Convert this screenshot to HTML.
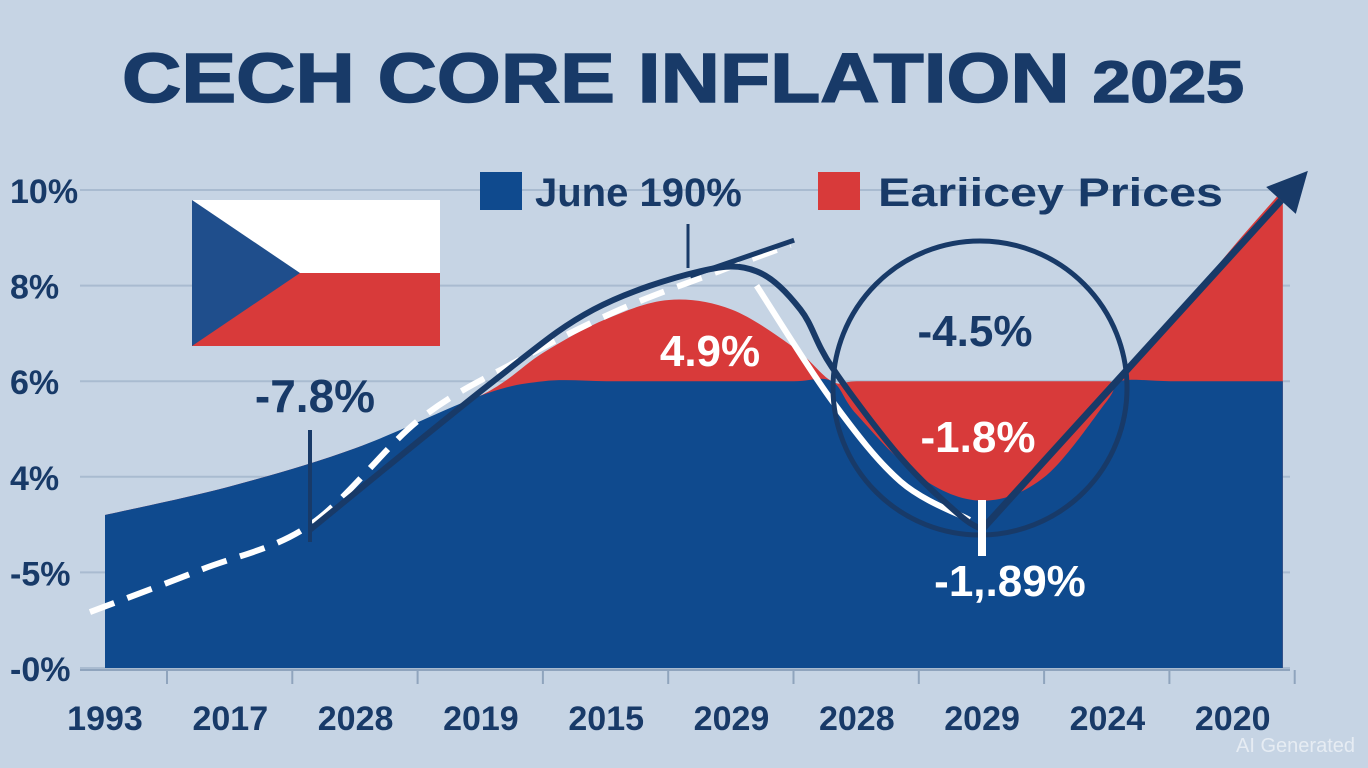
<!DOCTYPE html>
<html><head><meta charset="utf-8"><style>
body{margin:0;width:1368px;height:768px;overflow:hidden;background:#c6d4e4;font-family:"Liberation Sans",sans-serif}
svg{display:block}
</style></head><body>
<svg id="chart" width="1368" height="768" viewBox="0 0 1368 768">
<rect width="1368" height="768" fill="#c6d4e4"/>
<text x="122" y="102" font-size="70" font-weight="bold" fill="#183a68" textLength="1122" lengthAdjust="spacingAndGlyphs" stroke="#183a68" stroke-width="1.5">CECH CORE INFLATION <tspan font-size="58">2025</tspan></text>
<g id="grid"></g><g id="areas"></g><g id="lines"></g>
<g>
<rect x="480" y="172" width="42" height="38" fill="#0f4a8e"/>
<text x="535" y="206" font-size="40" font-weight="bold" fill="#183a68">June 190%</text>
<rect x="818" y="172" width="42" height="38" fill="#d83a3a"/>
<text x="878" y="206" font-size="40" font-weight="bold" fill="#183a68" textLength="345" lengthAdjust="spacingAndGlyphs">Eariicey Prices</text>
</g>
<g>
<rect x="192" y="200" width="248" height="73" fill="#ffffff"/>
<rect x="192" y="273" width="248" height="73" fill="#d83a3a"/>
<polygon points="192,200 300,273 192,346" fill="#1f4e8c"/>
</g>
<circle cx="980" cy="388" r="147" fill="none" stroke="#183a68" stroke-width="5"/>
<line x1="310" y1="430" x2="310" y2="542" stroke="#183a68" stroke-width="4"/>
<line x1="688" y1="224" x2="688" y2="268" stroke="#183a68" stroke-width="3"/>
<line x1="982" y1="500" x2="982" y2="556" stroke="#ffffff" stroke-width="8"/>
<text x="315" y="412" text-anchor="middle" font-size="46" font-weight="bold" fill="#183a68">-7.8%</text>
<text x="710" y="366" text-anchor="middle" font-size="44" font-weight="bold" fill="#ffffff">4.9%</text>
<text x="975" y="346" text-anchor="middle" font-size="44" font-weight="bold" fill="#183a68">-4.5%</text>
<text x="978" y="452" text-anchor="middle" font-size="44" font-weight="bold" fill="#ffffff">-1.8%</text>
<text x="1010" y="596" text-anchor="middle" font-size="44" font-weight="bold" fill="#ffffff">-1,.89%</text>
<g id="axes"></g>
<text x="1355" y="752" text-anchor="end" font-size="20" fill="#e6ecf3">AI Generated</text>
</svg>
<script>
const yTickValues=[0,2,4,6,8,10];
const yTickLabels=['-0%','-5%','4%','6%','8%','10%'];
const xCategories=['1993','2017','2028','2019','2015','2029','2028','2029','2024','2020'];
const areaXs=[0,1,2,3,3.5,4,4.5,5,5.5,5.8,6,6.5,7,7.5,8,8.1,8.5,9,9.4];
const redValues=[3.2,3.8,4.6,5.7,6.6,7.3,7.7,7.5,6.7,6.0,6,6,6,6,6,6,7.2,8.8,10.0];
const blueValues=[3.2,3.8,4.6,5.7,6,6,6,6,6,6,5.3,4.0,3.5,4.0,5.6,6,6,6,6];
const darkXs=[1.64,3.1,3.9,4.75,5.2,5.55,5.8,6.35,6.82,7.0];
const darkValues=[2.9,6.0,7.5,8.3,8.3,7.5,6.3,4.4,3.2,2.9];
const arrowXs=[7.0,9.6];
const arrowValues=[2.9,10.4];
const branchXs=[4.67,5.5];
const branchValues=[8.2,8.95];
const dashXs=[-0.12,0.76,1.64,2.51,3.31,4.11,4.9,5.47];
const dashValues=[1.17,2.05,3.0,5.2,6.45,7.5,8.3,8.85];
const whiteXs=[5.2,5.8,6.35,6.9];
const whiteValues=[8.0,5.6,3.9,3.1];

const NS='http://www.w3.org/2000/svg';
const X=i=>105+i*125.3;
const Y=v=>668-v*47.8;
function mk(tag,attrs,parent){const e=document.createElementNS(NS,tag);for(const k in attrs)e.setAttribute(k,attrs[k]);parent.appendChild(e);return e;}
function smooth(xs,vs){const p=xs.map((x,i)=>[X(x),Y(vs[i])]);let d='M'+p[0][0]+','+p[0][1];
for(let i=0;i<p.length-1;i++){const p0=p[i-1]||p[i],p1=p[i],p2=p[i+1],p3=p[i+2]||p2;
d+=' C'+(p1[0]+(p2[0]-p0[0])/6)+','+(p1[1]+(p2[1]-p0[1])/6)+' '+(p2[0]-(p3[0]-p1[0])/6)+','+(p2[1]-(p3[1]-p1[1])/6)+' '+p2[0]+','+p2[1];}return d;}
const grid=document.getElementById('grid'),areas=document.getElementById('areas'),lines=document.getElementById('lines'),axes=document.getElementById('axes');
yTickValues.forEach((v,i)=>{
const g=mk('line',{x1:80,x2:1290,y1:Y(v),y2:Y(v),stroke:'#a9bbd0','stroke-width':2},grid);


const t=mk('text',{x:10,y:Y(v)+13,'font-size':34,'font-weight':'bold',fill:'#183a68'},axes);t.textContent=yTickLabels[i];


});
function area(vals,fill,name){const d=smooth(areaXs,vals)+' L'+X(areaXs[areaXs.length-1])+','+Y(0)+' L'+X(areaXs[0])+','+Y(0)+' Z';
const p=mk('path',{d:d,fill:fill},areas);

}
area(redValues,'#d83a3a','red-area');
area(blueValues,'#0f4a8e','blue-area');
const l1=mk('path',{d:smooth(dashXs,dashValues),fill:'none',stroke:'#ffffff','stroke-width':6,'stroke-dasharray':'26 14'},lines);


const l2=mk('path',{d:smooth(whiteXs,whiteValues),fill:'none',stroke:'#ffffff','stroke-width':6},lines);


const l3=mk('path',{d:smooth(darkXs,darkValues),fill:'none',stroke:'#183a68','stroke-width':6},lines);


const l4=mk('path',{d:smooth(branchXs,branchValues),fill:'none',stroke:'#183a68','stroke-width':5},lines);


const ax1=X(arrowXs[0]),ay1=Y(arrowValues[0]),ax2=X(arrowXs[1]),ay2=Y(arrowValues[1]);
const ang=Math.atan2(ay2-ay1,ax2-ax1);
const bx=ax2-40*Math.cos(ang),by=ay2-40*Math.sin(ang);
const l5=mk('line',{x1:ax1,y1:ay1,x2:bx,y2:by,stroke:'#183a68','stroke-width':7},lines);


const px=Math.sin(ang)*20,py=-Math.cos(ang)*20;
const ah=mk('polygon',{points:ax2+','+ay2+' '+(bx+px)+','+(by+py)+' '+(bx-px)+','+(by-py),fill:'#183a68'},lines);


mk('line',{x1:80,x2:1290,y1:Y(0)+2,y2:Y(0)+2,stroke:'#8fa4bd','stroke-width':2},axes);
xCategories.forEach((c,i)=>{
const tk=mk('line',{x1:X(i)+62,x2:X(i)+62,y1:670,y2:684,stroke:'#8fa4bd','stroke-width':2},axes);


const t=mk('text',{x:X(i),y:730,'text-anchor':'middle','font-size':34,'font-weight':'bold',fill:'#183a68'},axes);t.textContent=c;


});
</script>
</body></html>
